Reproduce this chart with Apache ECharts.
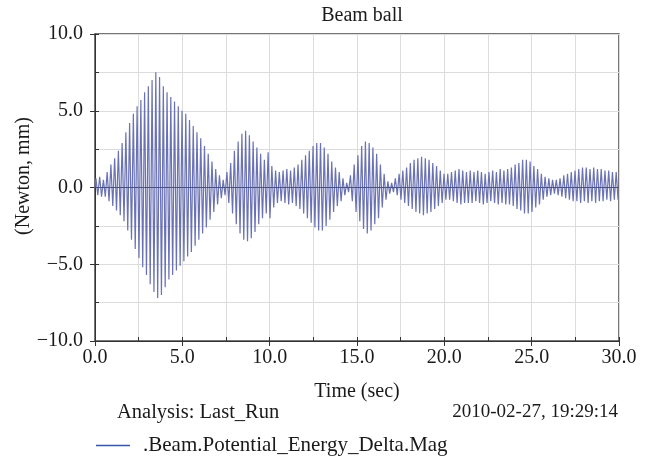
<!DOCTYPE html>
<html>
<head>
<meta charset="utf-8">
<script src="https://cdn.jsdelivr.net/npm/echarts@6/dist/echarts.min.js"></script>
<style>
html,body{margin:0;padding:0;background:#fff;}
#chart{width:652px;height:459px;}
</style>
</head>
<body>
<div id="chart"></div>
<script>
// ---- data ----
const titleText = 'Beam ball';
const seriesName = '.Beam.Potential_Energy_Delta.Mag';
const xAxisTitle = 'Time (sec)';
const yAxisTitle = '(Newton, mm)';
const xTickLabels = ['0.0','5.0','10.0','15.0','20.0','25.0','30.0'];
const yTickLabels = ['\u221210.0','\u22125.0','0.0','5.0','10.0'];
const timeStart = 0;
const timeEnd = 30;
// positive peak of each oscillation cycle (140 cycles over 0..30 s)
const upperPeaks = [
 0.6,0.7,0.5,1.0,1.5, 1.9,2.4,2.9,3.6,4.2, 4.8,5.3,5.7,6.2,6.6, 7.0,7.5,7.2,6.6,6.2,
 5.9,5.6,5.3,5.0,4.8, 4.4,4.0,3.6,3.2,2.7, 2.2,1.7,1.2,0.8,0.5, 1.0,1.6,2.4,3.0,3.5,
 3.7,3.4,3.0,2.6,2.2, 1.8,2.3,1.4,1.1,1.0, 1.1,1.2,1.1,1.3,1.5, 1.8,2.1,2.4,2.7,2.9,
 2.9,2.6,2.2,1.7,1.3, 1.0,0.6,0.3,0.8,1.5, 2.1,2.7,3.0,2.9,2.6, 2.2,1.5,0.9,0.4,0.3,
 0.6,0.9,1.1,1.3,1.6, 1.8,1.9,2.0,1.9,1.8, 1.6,1.4,1.1,0.9,0.9, 1.0,1.1,1.2,1.1,1.0,
 1.1,1.0,1.1,1.0,0.9, 1.0,1.1,1.0,1.2,1.1, 1.2,1.3,1.5,1.6,1.8, 1.8,1.7,1.4,1.2,0.9,
 0.7,0.6,0.5,0.5,0.6, 0.8,0.9,1.0,1.1,1.2, 1.3,1.3,1.2,1.3,1.2, 1.2,1.1,1.1,1.0,1.0
];
// negative peak of each oscillation cycle
const lowerPeaks = [
 -0.5,-0.6,-0.6,-0.9,-1.2, -1.5,-1.8,-2.2,-2.8,-3.4, -4.0,-4.6,-5.2,-5.7,-6.3, -6.8,-7.2,-7.0,-6.5,-6.0,
 -5.7,-5.4,-5.1,-4.8,-4.5, -4.2,-3.8,-3.4,-3.0,-2.6, -2.1,-1.6,-1.1,-0.7,-0.5, -1.0,-1.7,-2.4,-3.0,-3.4,
 -3.5,-3.3,-2.9,-2.4,-2.0, -1.7,-2.0,-1.3,-1.0,-0.9, -1.0,-1.1,-1.0,-1.2,-1.4, -1.7,-2.0,-2.3,-2.6,-2.8,
 -2.8,-2.5,-2.1,-1.6,-1.2, -0.9,-0.5,-0.3,-0.9,-1.6, -2.2,-2.7,-3.0,-2.8,-2.4, -2.0,-1.3,-0.8,-0.4,-0.3,
 -0.5,-0.8,-1.0,-1.2,-1.4, -1.6,-1.7,-1.8,-1.7,-1.6, -1.4,-1.2,-1.0,-0.8,-0.8, -0.9,-1.0,-1.1,-1.0,-1.0,
 -1.0,-0.9,-1.0,-1.1,-1.0, -0.9,-1.0,-1.1,-1.0,-1.1, -1.1,-1.2,-1.4,-1.5,-1.7, -1.7,-1.6,-1.3,-1.1,-0.8,
 -0.6,-0.5,-0.4,-0.5,-0.6, -0.7,-0.8,-0.9,-0.9,-1.0, -0.9,-1.0,-0.9,-1.0,-0.9, -0.9,-0.8,-0.9,-0.8,-0.8
];

// ---- build series (sample times on a regular grid) ----
const halfStep = (timeEnd - timeStart) / (upperPeaks.length * 2);
const data = [[timeStart, 0]];
for (let k = 0; k < upperPeaks.length; k++) {
  data.push([timeStart + (2 * k + 0.5) * halfStep, upperPeaks[k]]);
  data.push([timeStart + (2 * k + 1.5) * halfStep, lowerPeaks[k]]);
}

const FONT = 'Liberation Serif';
const FS = 20;
const TXT = '#1a1a1a';
const fmtX = v => { const i = Math.round(v / 5); return xTickLabels[i] || ''; };
const fmtY = v => { const i = Math.round((v + 10) / 5); return yTickLabels[i] || ''; };

const chart = echarts.init(document.getElementById('chart'), null, {renderer: 'canvas'});
chart.setOption({
  backgroundColor: '#fff',
  animation: false,
  textStyle: {fontFamily: FONT, color: TXT},
  title: {
    text: titleText, left: 357, top: 1, textAlign: 'center',
    textStyle: {fontFamily: FONT, fontSize: FS, fontWeight: 'normal', color: TXT}
  },
  grid: {left: 95, right: 33, top: 34, bottom: 118, show: true, borderColor: '#4a4a4a', borderWidth: 1.5, backgroundColor: 'transparent'},
  legend: {
    left: 96, top: 435, padding: 0, itemWidth: 34, itemHeight: 10, itemGap: 8,
    textStyle: {fontFamily: FONT, fontSize: 21, color: TXT, padding: [0,0,0,8]},
    data: [{name: seriesName, icon: 'path://M0,0 L34,0 L34,1.3 L0,1.3 Z', itemStyle: {color: '#3b55a8'}}]
  },
  xAxis: [
    {type: 'value', min: 0, max: 30, interval: 5, position: 'bottom',
     name: xAxisTitle, nameLocation: 'middle', nameGap: 41,
     nameTextStyle: {fontFamily: FONT, fontSize: FS, color: TXT},
     axisLine: {show: true, onZero: false, lineStyle: {color: '#333', width: 1}},
     axisTick: {show: true, inside: false, length: 5, lineStyle: {color: '#333'}},
     axisLabel: {formatter: fmtX, fontFamily: FONT, fontSize: FS, color: TXT, margin: 7},
     splitLine: {show: false}},
    {type: 'value', min: 0, max: 30, interval: 2.5, position: 'bottom',
     axisLine: {show: false, onZero: false},
     axisTick: {show: true, inside: true, length: 4, lineStyle: {color: '#333'}},
     axisLabel: {show: false},
     splitLine: {show: true, lineStyle: {color: '#dcdcdc', width: 1}}}
  ],
  yAxis: [
    {type: 'value', min: -10, max: 10, interval: 5, position: 'left',
     axisLine: {show: true, onZero: false, lineStyle: {color: '#333', width: 1}},
     axisTick: {show: true, inside: false, length: 5, lineStyle: {color: '#333'}},
     axisLabel: {formatter: fmtY, fontFamily: FONT, fontSize: FS, color: TXT, margin: 12},
     splitLine: {show: false}},
    {type: 'value', min: -10, max: 10, interval: 2.5, position: 'left',
     axisLine: {show: false, onZero: false},
     axisTick: {show: true, inside: true, length: 4, lineStyle: {color: '#333'}},
     axisLabel: {show: false},
     splitLine: {show: true, lineStyle: {color: '#dcdcdc', width: 1}}}
  ],
  graphic: [
    {type: 'text', x: 24, y: 176, rotation: Math.PI / 2,
     style: {text: yAxisTitle, font: FS + 'px "Liberation Serif"', fill: TXT, textAlign: 'center', textVerticalAlign: 'middle'}},
    {type: 'text', left: 117, top: 402, style: {text: 'Analysis: Last_Run', font: '20.5px "Liberation Serif"', fill: TXT}},
    {type: 'text', right: 34, top: 403, style: {text: '2010-02-27, 19:29:14', font: '19px "Liberation Serif"', fill: TXT}}
  ],
  series: [{
    name: seriesName, type: 'line', xAxisIndex: 0, yAxisIndex: 0,
    data: data, symbol: 'none', smooth: false,
    lineStyle: {color: '#6a72b4', width: 1.2},
    itemStyle: {color: '#3b55a8'},
    markLine: {silent: true, symbol: 'none', label: {show: false},
      lineStyle: {color: '#4a5080', width: 1, type: 'solid'},
      data: [{yAxis: 0}]}
  }]
});
</script>
</body>
</html>
